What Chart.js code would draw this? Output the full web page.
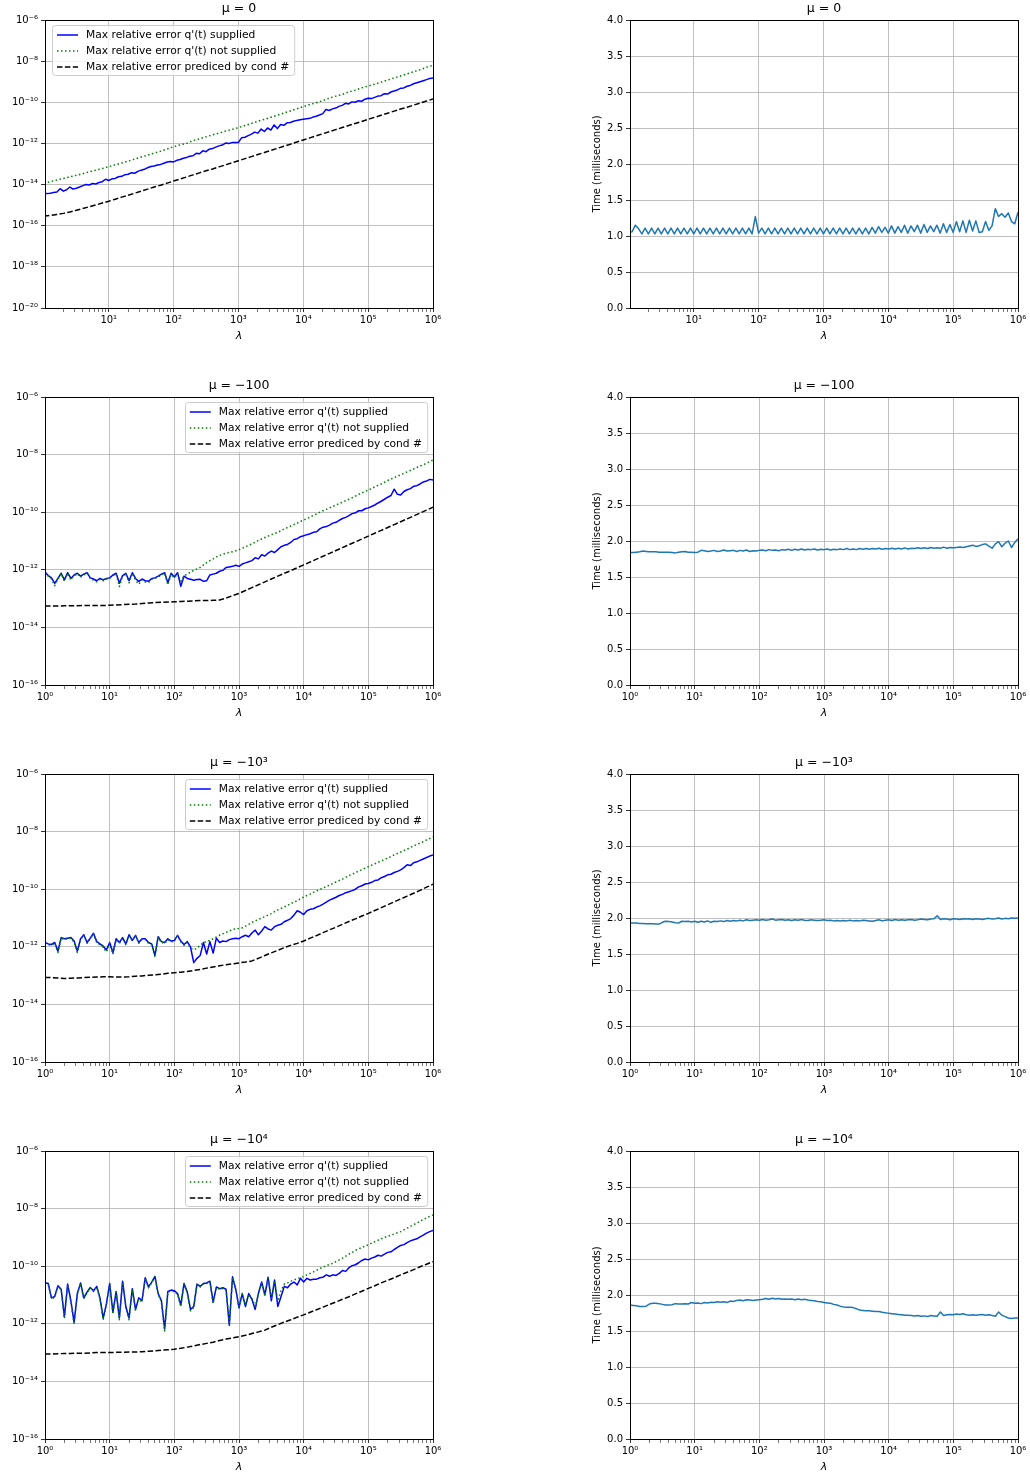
<!DOCTYPE html>
<html>
<head>
<meta charset="utf-8">
<script src="https://cdn.jsdelivr.net/npm/chart.js"></script>
<style>
  body { margin: 0; background: #fff; width: 1030px; height: 1475px; position: relative; overflow: hidden; }
  .panel { position: absolute; }
</style>
</head>
<body>
<script>
// lambda sample points (0.05 decade apart), shared by all series
const lam = [
  1, 1.122, 1.259, 1.413, 1.585, 1.778, 1.995, 2.239, 2.512, 2.818, 3.162, 3.548, 3.981, 4.467, 5.012, 5.623, 6.31, 7.079, 7.943, 8.913,
  10, 11.22, 12.59, 14.13, 15.85, 17.78, 19.95, 22.39, 25.12, 28.18, 31.62, 35.48, 39.81, 44.67, 50.12, 56.23, 63.1, 70.79, 79.43, 89.13,
  100, 112.2, 125.9, 141.3, 158.5, 177.8, 199.5, 223.9, 251.2, 281.8, 316.2, 354.8, 398.1, 446.7, 501.2, 562.3, 631, 707.9, 794.3, 891.3,
  1000, 1122, 1259, 1413, 1585, 1778, 1995, 2239, 2512, 2818, 3162, 3548, 3981, 4467, 5012, 5623, 6310, 7079, 7943, 8913,
  10000, 11220, 12590, 14130, 15850, 17780, 19950, 22390, 25120, 28180, 31620, 35480, 39810, 44670, 50120, 56230, 63100, 70790, 79430, 89130,
  100000, 112200, 125900, 141300, 158500, 177800, 199500, 223900, 251200, 281800, 316200, 354800, 398100, 446700, 501200, 562300, 631000, 707900, 794300, 891300,
  1000000
];
// smoother curves are read every 0.1 decade
const lamCoarse = lam.filter((_, i) => i % 2 === 0);

// error curves, stored as log10 of the max relative error
// mu = 0
const supplied0 = [
  -14.43,-14.44,-14.42,-14.38,-14.36,-14.20,-14.32,-14.25,-14.12,-14.22,
  -14.18,-14.12,-14.05,-14.00,-14.02,-13.95,-13.97,-13.90,-13.86,-13.74,
  -13.80,-13.72,-13.70,-13.62,-13.60,-13.52,-13.50,-13.42,-13.45,-13.36,
  -13.30,-13.26,-13.18,-13.12,-13.10,-13.05,-13.02,-12.96,-12.90,-12.88,
  -12.90,-12.82,-12.78,-12.72,-12.68,-12.62,-12.60,-12.48,-12.50,-12.36,
  -12.40,-12.28,-12.25,-12.18,-12.12,-12.08,-11.98,-12.00,-11.96,-11.95,
  -11.95,-11.72,-11.70,-11.62,-11.55,-11.45,-11.50,-11.30,-11.42,-11.25,
  -11.35,-11.10,-11.28,-11.08,-11.12,-11.00,-10.98,-10.92,-10.88,-10.85,
  -10.82,-10.80,-10.78,-10.72,-10.68,-10.62,-10.55,-10.35,-10.40,-10.32,
  -10.28,-10.20,-10.15,-10.05,-10.08,-9.98,-10.00,-9.92,-9.95,-9.85,
  -9.80,-9.82,-9.76,-9.70,-9.68,-9.58,-9.60,-9.50,-9.45,-9.40,
  -9.32,-9.30,-9.22,-9.18,-9.10,-9.05,-9.00,-8.95,-8.90,-8.84,
  -8.82
];
const notSupplied0 = [
  -13.93,-13.86,-13.78,-13.70,-13.62,-13.55,-13.47,-13.38,-13.30,-13.22,
  -13.13,-13.04,-12.95,-12.86,-12.76,-12.66,-12.57,-12.47,-12.38,-12.27,
  -12.16,-12.07,-12.00,-11.86,-11.78,-11.68,-11.58,-11.50,-11.40,-11.32,
  -11.23,-11.13,-11.03,-10.92,-10.83,-10.73,-10.63,-10.52,-10.42,-10.32,
  -10.21,-10.11,-10.02,-9.92,-9.80,-9.70,-9.62,-9.50,-9.41,-9.30,
  -9.21,-9.12,-9.02,-8.92,-8.82,-8.72,-8.62,-8.52,-8.42,-8.30,
  -8.20
];
const predicted0 = [
  -15.53,-15.50,-15.45,-15.40,-15.33,-15.25,-15.16,-15.08,-14.99,-14.90,
  -14.81,-14.71,-14.61,-14.52,-14.42,-14.32,-14.22,-14.12,-14.03,-13.93,
  -13.83,-13.73,-13.63,-13.53,-13.43,-13.33,-13.24,-13.14,-13.04,-12.94,
  -12.84,-12.74,-12.64,-12.54,-12.44,-12.34,-12.24,-12.14,-12.04,-11.93,
  -11.83,-11.73,-11.63,-11.53,-11.43,-11.33,-11.23,-11.13,-11.03,-10.93,
  -10.83,-10.73,-10.63,-10.53,-10.43,-10.33,-10.24,-10.14,-10.04,-9.94,
  -9.84
];

// mu = -100
const supplied100 = [
  -12.08,-12.20,-12.28,-12.47,-12.30,-12.12,-12.35,-12.10,-12.30,-12.18,
  -12.12,-12.22,-12.15,-12.10,-12.28,-12.32,-12.38,-12.30,-12.35,-12.30,
  -12.28,-12.18,-12.12,-12.47,-12.20,-12.12,-12.38,-12.10,-12.30,-12.40,
  -12.32,-12.38,-12.40,-12.30,-12.28,-12.22,-12.15,-12.10,-12.45,-12.12,
  -12.25,-12.10,-12.57,-12.22,-12.30,-12.33,-12.36,-12.34,-12.33,-12.40,
  -12.38,-12.18,-12.15,-12.12,-12.05,-12.02,-11.92,-11.90,-11.88,-11.84,
  -11.88,-11.80,-11.76,-11.72,-11.68,-11.58,-11.62,-11.48,-11.52,-11.42,
  -11.35,-11.40,-11.30,-11.20,-11.15,-11.12,-11.05,-10.95,-10.92,-10.85,
  -10.82,-10.78,-10.75,-10.70,-10.68,-10.58,-10.52,-10.50,-10.45,-10.38,
  -10.35,-10.28,-10.22,-10.18,-10.12,-10.05,-10.02,-9.95,-9.95,-9.88,
  -9.85,-9.80,-9.75,-9.68,-9.62,-9.55,-9.48,-9.42,-9.20,-9.38,
  -9.40,-9.28,-9.22,-9.18,-9.10,-9.08,-9.02,-8.95,-8.92,-8.86,
  -8.88
];
const notSupplied100 = [
  -12.10,-12.22,-12.32,-12.55,-12.33,-12.14,-12.40,-12.12,-12.35,-12.20,
  -12.14,-12.26,-12.18,-12.12,-12.30,-12.36,-12.42,-12.33,-12.38,-12.32,
  -12.30,-12.20,-12.15,-12.58,-12.22,-12.14,-12.45,-12.12,-12.36,-12.50,
  -12.35,-12.42,-12.44,-12.33,-12.30,-12.25,-12.18,-12.12,-12.52,-12.15,
  -12.28,-12.14,-12.40,-12.20,-12.15,-12.08,-12.02,-11.97,-11.92,-11.83,
  -11.75,-11.68,-11.62,-11.55,-11.50,-11.46,-11.42,-11.40,-11.37,-11.34,
  -11.30,-11.25,-11.20,-11.15,-11.10,-11.04,-10.98,-10.93,-10.88,-10.83,
  -10.78,-10.74,-10.70,-10.64,-10.58,-10.53,-10.48,-10.43,-10.38,-10.32,
  -10.27,-10.22,-10.17,-10.11,-10.06,-10.00,-9.95,-9.90,-9.85,-9.80,
  -9.75,-9.70,-9.65,-9.60,-9.55,-9.50,-9.44,-9.38,-9.33,-9.28,
  -9.23,-9.18,-9.12,-9.07,-9.02,-8.96,-8.90,-8.85,-8.80,-8.75,
  -8.70,-8.65,-8.60,-8.55,-8.50,-8.45,-8.40,-8.35,-8.30,-8.24,
  -8.19
];
const predicted100 = [
  -13.26,-13.26,-13.26,-13.25,-13.25,-13.25,-13.24,-13.24,-13.24,-13.24,
  -13.23,-13.22,-13.21,-13.20,-13.19,-13.17,-13.15,-13.14,-13.13,-13.12,
  -13.11,-13.10,-13.09,-13.08,-13.07,-13.07,-13.06,-13.05,-12.98,-12.90,
  -12.82,-12.72,-12.62,-12.52,-12.42,-12.32,-12.22,-12.12,-12.03,-11.93,
  -11.83,-11.73,-11.63,-11.53,-11.43,-11.33,-11.23,-11.13,-11.03,-10.93,
  -10.83,-10.73,-10.63,-10.53,-10.43,-10.33,-10.23,-10.13,-10.03,-9.93,
  -9.83
];

// mu = -10^3
const supplied1k = [
  -11.85,-11.90,-11.92,-11.85,-12.15,-11.68,-11.72,-11.70,-11.68,-11.80,
  -12.15,-11.72,-11.58,-11.85,-11.70,-11.53,-11.82,-11.90,-11.98,-12.11,
  -11.85,-12.20,-11.72,-11.85,-11.68,-11.90,-11.58,-11.78,-11.60,-11.85,
  -11.72,-11.72,-11.85,-11.90,-12.30,-11.65,-11.82,-11.85,-11.72,-11.80,
  -11.78,-11.60,-11.80,-11.92,-11.82,-12.00,-12.55,-12.40,-12.30,-11.85,
  -12.25,-11.82,-12.22,-11.70,-11.85,-11.80,-11.82,-11.75,-11.72,-11.70,
  -11.72,-11.65,-11.60,-11.65,-11.52,-11.42,-11.58,-11.45,-11.30,-11.38,
  -11.42,-11.30,-11.25,-11.22,-11.13,-11.08,-11.02,-10.90,-10.75,-10.80,
  -10.88,-10.75,-10.70,-10.68,-10.62,-10.58,-10.52,-10.45,-10.38,-10.33,
  -10.28,-10.22,-10.18,-10.12,-10.09,-10.05,-10.00,-9.92,-9.88,-9.82,
  -9.80,-9.76,-9.70,-9.68,-9.60,-9.56,-9.50,-9.48,-9.42,-9.38,
  -9.33,-9.25,-9.15,-9.18,-9.08,-9.05,-9.00,-8.95,-8.90,-8.85,
  -8.81
];
const notSupplied1k = [
  -11.88,-11.93,-11.95,-11.88,-12.20,-11.70,-11.75,-11.72,-11.70,-11.84,
  -12.20,-11.75,-11.60,-11.88,-11.73,-11.55,-11.85,-11.93,-12.02,-12.18,
  -11.88,-12.26,-11.75,-11.88,-11.70,-11.93,-11.60,-11.80,-11.62,-11.88,
  -11.75,-11.75,-11.88,-11.93,-12.36,-11.68,-11.85,-11.88,-11.75,-11.83,
  -11.80,-11.62,-11.83,-11.95,-11.86,-12.05,-12.10,-12.05,-11.95,-11.85,
  -11.82,-11.78,-11.72,-11.66,-11.60,-11.55,-11.50,-11.45,-11.40,-11.38,
  -11.36,-11.34,-11.28,-11.22,-11.15,-11.10,-11.05,-11.00,-10.95,-10.90,
  -10.85,-10.78,-10.72,-10.67,-10.62,-10.56,-10.50,-10.45,-10.40,-10.33,
  -10.27,-10.22,-10.17,-10.11,-10.06,-10.01,-9.96,-9.91,-9.86,-9.80,
  -9.75,-9.70,-9.65,-9.59,-9.53,-9.48,-9.43,-9.37,-9.32,-9.27,
  -9.22,-9.17,-9.12,-9.07,-9.02,-8.97,-8.92,-8.86,-8.81,-8.76,
  -8.71,-8.66,-8.61,-8.55,-8.50,-8.45,-8.40,-8.35,-8.29,-8.24,
  -8.18
];
const predicted1k = [
  -13.07,-13.07,-13.08,-13.10,-13.09,-13.08,-13.07,-13.06,-13.05,-13.04,
  -13.04,-13.05,-13.05,-13.04,-13.02,-13.01,-12.99,-12.97,-12.95,-12.92,
  -12.90,-12.88,-12.86,-12.82,-12.79,-12.74,-12.70,-12.66,-12.62,-12.59,
  -12.56,-12.53,-12.49,-12.40,-12.30,-12.21,-12.12,-12.03,-11.95,-11.88,
  -11.80,-11.70,-11.61,-11.51,-11.41,-11.32,-11.22,-11.12,-11.03,-10.93,
  -10.84,-10.74,-10.64,-10.54,-10.44,-10.34,-10.24,-10.14,-10.04,-9.93,
  -9.83
];

// mu = -10^4
const supplied10k = [
  -10.57,-10.60,-11.10,-11.05,-10.68,-10.80,-11.75,-10.62,-11.20,-11.95,
  -10.95,-10.58,-11.10,-10.90,-10.74,-10.85,-10.70,-11.10,-11.80,-11.30,
  -10.60,-11.60,-10.88,-11.80,-10.52,-11.40,-11.80,-10.78,-11.50,-11.10,
  -11.20,-10.40,-10.72,-10.55,-10.35,-10.95,-11.20,-12.18,-10.88,-10.83,
  -10.85,-10.95,-11.35,-10.60,-10.90,-11.50,-11.40,-10.62,-10.70,-10.60,
  -10.58,-10.52,-11.25,-10.72,-10.78,-10.75,-10.80,-12.05,-10.37,-10.80,
  -11.45,-10.95,-11.40,-10.95,-11.15,-11.50,-10.95,-10.55,-11.00,-10.38,
  -11.20,-10.48,-11.40,-11.05,-10.70,-10.75,-10.62,-10.55,-10.65,-10.42,
  -10.55,-10.42,-10.48,-10.45,-10.45,-10.40,-10.38,-10.30,-10.35,-10.30,
  -10.32,-10.25,-10.15,-10.18,-10.05,-9.98,-9.95,-9.88,-9.80,-9.75,
  -9.78,-9.72,-9.68,-9.62,-9.65,-9.58,-9.52,-9.50,-9.42,-9.35,
  -9.28,-9.25,-9.18,-9.12,-9.08,-9.05,-8.98,-8.92,-8.85,-8.80,
  -8.76
];
const notSupplied10k = [
  -10.58,-10.62,-11.14,-11.08,-10.70,-10.82,-11.82,-10.64,-11.24,-12.02,
  -10.98,-10.60,-11.14,-10.93,-10.76,-10.88,-10.72,-11.14,-11.86,-11.34,
  -10.62,-11.66,-10.90,-11.86,-10.54,-11.44,-11.86,-10.80,-11.55,-11.14,
  -11.24,-10.42,-10.75,-10.57,-10.37,-10.98,-11.24,-12.25,-10.90,-10.86,
  -10.88,-10.98,-11.40,-10.62,-10.93,-11.55,-11.44,-10.64,-10.72,-10.62,
  -10.60,-10.54,-11.30,-10.75,-10.80,-10.78,-10.83,-12.02,-10.39,-10.82,
  -11.40,-10.98,-11.35,-10.98,-11.12,-11.40,-10.98,-10.58,-11.02,-10.40,
  -11.10,-10.50,-11.20,-10.85,-10.62,-10.58,-10.52,-10.48,-10.43,-10.40,
  -10.36,-10.30,-10.25,-10.20,-10.14,-10.08,-10.03,-9.98,-9.94,-9.90,
  -9.84,-9.78,-9.72,-9.65,-9.58,-9.52,-9.45,-9.40,-9.35,-9.30,
  -9.26,-9.20,-9.15,-9.10,-9.05,-9.00,-8.96,-8.92,-8.88,-8.84,
  -8.80,-8.74,-8.68,-8.62,-8.56,-8.50,-8.44,-8.38,-8.33,-8.27,
  -8.22
];
const predicted10k = [
  -13.05,-13.05,-13.04,-13.03,-13.03,-13.02,-13.02,-13.01,-13.00,-13.00,
  -13.00,-12.99,-12.99,-12.98,-12.98,-12.97,-12.95,-12.94,-12.92,-12.90,
  -12.88,-12.85,-12.81,-12.77,-12.72,-12.68,-12.64,-12.58,-12.53,-12.49,
  -12.45,-12.40,-12.34,-12.28,-12.22,-12.12,-12.03,-11.94,-11.86,-11.77,
  -11.69,-11.60,-11.51,-11.42,-11.33,-11.24,-11.15,-11.06,-10.96,-10.87,
  -10.77,-10.68,-10.58,-10.49,-10.40,-10.30,-10.21,-10.12,-10.02,-9.93,
  -9.84
];

// timings in milliseconds
const time0 = [
  1.05,1.06,1.15,1.10,1.03,1.11,1.03,1.11,1.03,1.11,
  1.03,1.11,1.03,1.11,1.03,1.11,1.03,1.11,1.03,1.11,
  1.03,1.11,1.03,1.11,1.03,1.11,1.03,1.11,1.03,1.11,
  1.03,1.11,1.03,1.11,1.03,1.11,1.03,1.11,1.03,1.27,
  1.04,1.11,1.03,1.11,1.03,1.11,1.03,1.11,1.03,1.11,
  1.03,1.11,1.03,1.11,1.03,1.11,1.03,1.11,1.03,1.11,
  1.03,1.11,1.03,1.11,1.03,1.11,1.03,1.11,1.03,1.11,
  1.03,1.11,1.03,1.11,1.03,1.12,1.04,1.13,1.05,1.12,
  1.04,1.14,1.04,1.13,1.05,1.15,1.04,1.14,1.06,1.15,
  1.04,1.16,1.05,1.14,1.06,1.15,1.04,1.17,1.05,1.16,
  1.05,1.20,1.06,1.21,1.05,1.22,1.07,1.21,1.05,1.06,
  1.20,1.08,1.14,1.38,1.27,1.31,1.26,1.32,1.20,1.17,
  1.33
];
const time100 = [
  1.84,1.84,1.845,1.85,1.86,1.855,1.85,1.85,1.85,1.845,
  1.845,1.845,1.845,1.84,1.835,1.845,1.85,1.855,1.845,1.845,
  1.84,1.845,1.87,1.865,1.855,1.86,1.87,1.855,1.86,1.875,
  1.86,1.865,1.87,1.855,1.87,1.86,1.875,1.855,1.865,1.86,
  1.87,1.875,1.865,1.88,1.87,1.875,1.865,1.88,1.875,1.885,
  1.87,1.885,1.875,1.89,1.875,1.885,1.88,1.89,1.875,1.885,
  1.88,1.89,1.875,1.885,1.88,1.89,1.88,1.895,1.88,1.89,
  1.88,1.895,1.885,1.895,1.885,1.895,1.89,1.90,1.885,1.895,
  1.89,1.90,1.89,1.90,1.89,1.905,1.89,1.90,1.895,1.905,
  1.895,1.905,1.895,1.91,1.90,1.905,1.90,1.915,1.90,1.91,
  1.905,1.91,1.915,1.91,1.92,1.93,1.94,1.925,1.935,1.95,
  1.96,1.93,1.90,1.96,1.99,1.92,1.97,2.00,1.91,1.98,
  2.03
];
const time1k = [
  1.93,1.93,1.93,1.925,1.925,1.92,1.92,1.92,1.915,1.915,
  1.94,1.955,1.95,1.945,1.935,1.93,1.955,1.95,1.955,1.945,
  1.955,1.94,1.955,1.945,1.96,1.94,1.955,1.95,1.96,1.95,
  1.965,1.955,1.965,1.96,1.97,1.96,1.975,1.965,1.97,1.975,
  1.97,1.98,1.97,1.975,1.985,1.97,1.975,1.98,1.97,1.975,
  1.965,1.975,1.97,1.98,1.97,1.965,1.975,1.97,1.965,1.97,
  1.975,1.965,1.97,1.96,1.965,1.96,1.965,1.96,1.97,1.96,
  1.965,1.96,1.97,1.965,1.96,1.955,1.965,1.975,1.96,1.97,
  1.975,1.965,1.98,1.97,1.975,1.97,1.975,1.98,1.97,1.975,
  1.985,1.98,1.975,1.985,1.99,2.03,1.98,1.99,1.985,1.975,
  1.99,1.985,1.98,1.99,1.985,1.99,1.98,1.99,1.985,1.98,
  1.99,1.995,1.985,1.99,2.00,1.985,1.995,1.99,2.00,1.995,
  2.00
];
const time10k = [
  1.86,1.855,1.85,1.84,1.84,1.845,1.875,1.885,1.885,1.88,
  1.87,1.86,1.86,1.865,1.88,1.875,1.875,1.88,1.875,1.895,
  1.885,1.89,1.88,1.895,1.89,1.90,1.895,1.905,1.90,1.905,
  1.895,1.915,1.91,1.925,1.93,1.92,1.935,1.93,1.925,1.93,
  1.935,1.94,1.95,1.94,1.955,1.945,1.95,1.94,1.945,1.94,
  1.945,1.935,1.945,1.935,1.94,1.93,1.925,1.92,1.91,1.905,
  1.895,1.89,1.885,1.87,1.86,1.845,1.835,1.83,1.83,1.825,
  1.81,1.79,1.785,1.78,1.78,1.775,1.77,1.77,1.76,1.755,
  1.745,1.74,1.735,1.73,1.725,1.72,1.72,1.715,1.71,1.715,
  1.705,1.71,1.70,1.715,1.71,1.705,1.765,1.715,1.725,1.73,
  1.725,1.735,1.73,1.74,1.725,1.72,1.725,1.72,1.725,1.73,
  1.72,1.725,1.715,1.705,1.765,1.72,1.70,1.68,1.675,1.68,
  1.68
];

const titles = ['μ = 0', 'μ = −100', 'μ = −10³', 'μ = −10⁴'];
const seriesLabels = [
  "Max relative error q'(t) supplied",
  "Max relative error q'(t) not supplied",
  'Max relative error prediced by cond #'
];
const errTickExpsWide = [-20, -18, -16, -14, -12, -10, -8, -6];
const errTickExps = [-16, -14, -12, -10, -8, -6];
const timeTicks = [0, 0.5, 1, 1.5, 2, 2.5, 3, 3.5, 4];

const rowTop = [0, 377, 754, 1131];
const GRID = '#b0b0b0';

Chart.defaults.font.family = '"DejaVu Sans", sans-serif';
Chart.defaults.font.size = 10;
Chart.defaults.color = '#000';

const SUP = {'-': '⁻', '0': '⁰', '1': '¹', '2': '²', '3': '³', '4': '⁴', '5': '⁵', '6': '⁶', '7': '⁷', '8': '⁸', '9': '⁹'};
function pow10Label(e) {
  return '10' + String(e).split('').map(c => SUP[c]).join('');
}
function isDecade(v) {
  const l = Math.log10(v);
  return Math.abs(l - Math.round(l)) < 1e-6;
}

// major ticks at decades, minor ticks 2..9 in between
const xTickVals = [];
for (let d = 0; d < 6; d++) {
  for (let m = 1; m < 10; m++) xTickVals.push(m * Math.pow(10, d));
}
xTickVals.push(1e6);

// black frame round the axes, like matplotlib spines
const framePlugin = {
  id: 'frame',
  afterDatasetsDraw(chart) {
    const {ctx, chartArea: a} = chart;
    const l = Math.round(a.left) + 0.5, t = Math.round(a.top) + 0.5;
    const r = Math.round(a.right) + 0.5, b = Math.round(a.bottom) + 0.5;
    ctx.save();
    ctx.strokeStyle = '#000';
    ctx.lineWidth = 1;
    ctx.strokeRect(l, t, r - l, b - t);
    ctx.restore();
  }
};

// legend drawn inside the axes with a rounded box
const legendBox = {
  id: 'legendBox',
  afterDatasetsDraw(chart, args, opts) {
    if (!opts.align) return;
    const {ctx, chartArea} = chart;
    const sets = chart.data.datasets;
    ctx.save();
    ctx.font = '10.7px "DejaVu Sans"';
    const textW = Math.max(...sets.map(d => ctx.measureText(d.label).width));
    const w = 5 + 21 + 8 + textW + 5;
    const h = sets.length * 16 + 2;
    const x = opts.align === 'right' ? chartArea.right - 6 - w : chartArea.left + 7;
    const y = chartArea.top + 5;
    ctx.beginPath();
    ctx.roundRect(Math.round(x) + 0.5, Math.round(y) + 0.5, w, h, 3);
    ctx.fillStyle = 'rgba(255,255,255,0.8)';
    ctx.fill();
    ctx.strokeStyle = '#cccccc';
    ctx.lineWidth = 1;
    ctx.stroke();
    sets.forEach((d, i) => {
      const cy = y + 10 + i * 16;
      ctx.beginPath();
      ctx.setLineDash(d.borderDash || []);
      ctx.strokeStyle = d.borderColor;
      ctx.lineWidth = d.borderWidth;
      ctx.moveTo(x + 5, cy);
      ctx.lineTo(x + 26, cy);
      ctx.stroke();
      ctx.setLineDash([]);
      ctx.fillStyle = '#000';
      ctx.textBaseline = 'middle';
      ctx.fillText(d.label, x + 34, cy + 0.5);
    });
    ctx.restore();
  }
};

function titleOpts(text) {
  return {
    display: true, text, fullSize: false, color: '#000',
    font: {size: 12.5, weight: 'normal', lineHeight: '16px'},
    padding: {top: 1, bottom: 3}
  };
}

function xAxis(min) {
  return {
    type: 'logarithmic', min, max: 1e6,
    afterBuildTicks: s => { s.ticks = xTickVals.filter(v => v >= min * 0.999).map(v => ({value: v})); },
    afterFit: s => { s.height = 40; },
    ticks: {autoSkip: false, maxRotation: 0, padding: 2,
      callback: v => isDecade(v) ? pow10Label(Math.round(Math.log10(v))) : ''},
    grid: {
      color: c => (c.tick && isDecade(c.tick.value)) ? GRID : 'rgba(0,0,0,0)',
      lineWidth: 0.8, tickLength: 4, tickWidth: 0.8,
      tickColor: c => (c.tick && isDecade(c.tick.value)) ? '#000' : '#555'
    },
    border: {color: '#000', width: 1},
    title: {display: true, text: 'λ', font: {size: 11, style: 'italic'}, padding: {top: 0, bottom: 5}}
  };
}

function makeCanvas(left, top) {
  const div = document.createElement('div');
  div.className = 'panel';
  div.style.left = left + 'px';
  div.style.top = top + 'px';
  const cv = document.createElement('canvas');
  cv.width = 450;
  cv.height = 348;
  cv.style.width = '450px';
  cv.style.height = '348px';
  div.appendChild(cv);
  document.body.appendChild(div);
  return cv;
}

const lineBase = {borderWidth: 1.5, pointRadius: 0, fill: false, tension: 0, borderJoinStyle: 'round'};
const errStyles = [
  {borderColor: '#0000ff', borderDash: [], order: 3},
  {borderColor: '#008000', borderDash: [1.5, 2.5], order: 2},
  {borderColor: '#000000', borderDash: [5.5, 2.4], order: 1}
];

const errPanels = [
  {xMin: 1.04, yExps: errTickExpsWide, legend: 'left',
   series: [[lam, supplied0], [lamCoarse, notSupplied0], [lamCoarse, predicted0]]},
  {xMin: 1, yExps: errTickExps, legend: 'right',
   series: [[lam, supplied100], [lam, notSupplied100], [lamCoarse, predicted100]]},
  {xMin: 1, yExps: errTickExps, legend: 'right',
   series: [[lam, supplied1k], [lam, notSupplied1k], [lamCoarse, predicted1k]]},
  {xMin: 1, yExps: errTickExps, legend: 'right',
   series: [[lam, supplied10k], [lam, notSupplied10k], [lamCoarse, predicted10k]]}
];
const timeSeries = [time0, time100, time1k, time10k];

errPanels.forEach((p, row) => {
  new Chart(makeCanvas(0, rowTop[row]), {
    type: 'line',
    data: {
      datasets: p.series.map(([xs, exps], i) => ({
        ...lineBase, ...errStyles[i],
        label: seriesLabels[i],
        data: xs.map((x, j) => ({x, y: Math.pow(10, exps[j])}))
      }))
    },
    options: {
      responsive: false, animation: false, events: [],
      layout: {padding: {right: 17}},
      plugins: {
        legend: {display: false}, tooltip: {enabled: false},
        title: titleOpts(titles[row]),
        legendBox: {align: p.legend}
      },
      scales: {
        x: xAxis(p.xMin),
        y: {
          type: 'logarithmic',
          min: Math.pow(10, p.yExps[0]), max: 1e-6,
          afterBuildTicks: s => { s.ticks = p.yExps.map(e => ({value: Math.pow(10, e)})); },
          afterFit: s => { s.width = 45; },
          ticks: {padding: 3, callback: v => pow10Label(Math.round(Math.log10(v)))},
          grid: {color: GRID, lineWidth: 0.8, tickLength: 4, tickColor: '#000', tickWidth: 0.8},
          border: {color: '#000', width: 1}
        }
      }
    },
    plugins: [framePlugin, legendBox]
  });

  new Chart(makeCanvas(580, rowTop[row]), {
    type: 'line',
    data: {
      datasets: [{
        ...lineBase, borderColor: '#1f77b4', label: 'time',
        data: lam.map((x, j) => ({x, y: timeSeries[row][j]}))
      }]
    },
    options: {
      responsive: false, animation: false, events: [],
      layout: {padding: {right: 12}},
      plugins: {
        legend: {display: false}, tooltip: {enabled: false},
        title: titleOpts(titles[row])
      },
      scales: {
        x: xAxis(p.xMin),
        y: {
          type: 'linear', min: 0, max: 4,
          afterBuildTicks: s => { s.ticks = timeTicks.map(v => ({value: v})); },
          afterFit: s => { s.width = 50; },
          ticks: {padding: 3, callback: v => v.toFixed(1)},
          grid: {color: GRID, lineWidth: 0.8, tickLength: 4, tickColor: '#000', tickWidth: 0.8},
          border: {color: '#000', width: 1},
          title: {display: true, text: 'Time (milliseconds)', font: {size: 10}, padding: {top: 11, bottom: 0}}
        }
      }
    },
    plugins: [framePlugin]
  });
});
</script>
</body>
</html>
